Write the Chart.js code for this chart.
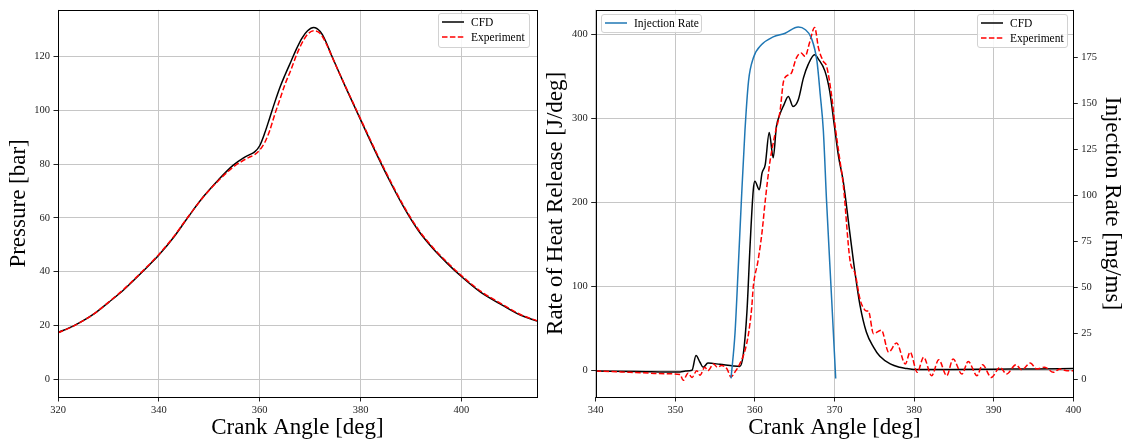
<!DOCTYPE html>
<html><head><meta charset="utf-8">
<script src="https://cdn.jsdelivr.net/npm/chart.js@4.4.1/dist/chart.umd.min.js"></script>
<style>
html,body{margin:0;padding:0;background:#fff;}
#wrap{position:relative;width:1129px;height:444px;overflow:hidden;background:#fff;}
canvas{position:absolute;top:0;}
#cA{left:0;} #cB{left:530px;}
.leg{position:absolute;background:rgba(255,255,255,0.85);border:1px solid #d2d2d2;border-radius:3px;box-sizing:border-box;font-family:'Liberation Serif',serif;font-size:11.5px;color:#000;}
.leg svg{position:absolute;overflow:visible;}
.leg span{position:absolute;white-space:nowrap;height:14px;line-height:14px;}
</style></head><body>
<div id="wrap">
<canvas id="cA" width="540" height="444"></canvas>
<canvas id="cB" width="599" height="444"></canvas>
</div>
<script>
// ---------- data: in-cylinder pressure ----------
const P_ANGLE = [320,322.9,325,327.2,330.1,333,335.9,338,340,343.1,346,348.9,351.8,354.7,356.8,358,359,360,361,362,363,364.1,365,366.2,367.3,368.4,369.5,370.7,372,373,374.2,375.5,377.1,380,382.9,385.8,388.6,391.5,394.4,397.3,400,403.8,408.2,411.8,415];
const P_CFD = [17.4,19.7,21.8,24.4,28.7,33.2,38.4,42.3,46.2,53.2,60.8,68.0,74.1,79.5,82.3,83.5,84.5,86.8,91.5,97.2,103,108.9,113,118.1,122.8,126.8,129.5,130.7,129.2,126,120.6,115,108.3,96.5,84.8,73.7,63.9,55.2,48.5,42.9,38.2,32.4,27.5,23.8,21.7];
const P_EXP = [17.3,19.6,21.8,24.4,28.8,33.4,38.6,42.5,46.4,53.4,60.9,67.9,73.8,78.8,81.4,82.6,83.5,85.2,88,92.5,98.5,104.5,109.5,115,120.5,125,128.2,129.5,128.5,125.5,120.5,115,108.5,96.8,85.2,74.2,64.3,55.6,48.9,43.3,38.6,32.8,27.8,24.0,21.8];
const P_X_TICKS = [320,340,360,380,400];
const P_Y_TICKS = [0,20,40,60,80,100,120];

// ---------- data: rate of heat release ----------
const HRR_CFD_ANGLE = [340,345,350.6,351.3,352.1,352.6,353.1,353.5,354.1,355.6,357.3,358.1,358.55,359.0,359.4,359.8,360.0,360.55,360.9,361.3,361.8,362.3,362.7,363.15,363.6,364.2,364.8,365.45,366.1,366.7,367.5,368.0,368.8,369.4,370.0,370.5,371.1,371.95,372.6,373.2,374.0,374.9,375.7,377.0,378.2,379.1,380,385,390,395,400];
const HRR_CFD = [-0.5,-1,-1.6,-0.5,0.5,18,10,4,9,7.5,5.5,5,20,70,150,215,225,215,235,245,283,253,290,305,315,326,314,322,348,364,375.5,370,356,332,290,255,225,162,115,78,46,28,17,8,4,2.5,1.5,1.5,1.8,2,2.5];
const HRR_EXP_ANGLE = [340,342,344.3,346,348,350.6,351.0,351.6,352.1,352.7,353.1,353.7,354.1,354.8,355.3,355.8,356.5,357.0,357.5,358.1,358.75,359.2,359.6,359.8,360.4,360.9,361.3,361.9,362.5,363.15,363.6,364.2,364.6,365.2,365.8,366.3,366.9,367.5,368.0,368.6,369.0,369.65,370.05,370.6,371.1,371.95,372.6,373.2,373.6,374.0,374.25,374.9,375.9,376.8,377.8,378.9,379.5,380.4,381.2,382.2,383.1,384.1,384.9,386.0,386.8,387.9,388.6,389.7,390.8,391.6,392.8,393.5,394.6,395.4,396.4,397.5,398.3,399.2,400];
const HRR_EXP = [-0.5,-1,-2,-2.5,-3.5,-4.5,-11.5,-3,-8,0,-5.5,4,0,8,4,6,2,-7.5,-1.5,8,24,44,75,100,131,165,202,249,280,308,344,351.5,354,371.5,377.5,373.6,391,408,383,367.6,362,326,293,255,221,131,115,85,75,71,71,44,48,22,33,8,22,-2,16,-6,13,-6,14,-4,11,-6,7,-8,4,-4,7,1,9,2,4,-2,2,0,0];
const H_X_TICKS = [340,350,360,370,380,390,400];
const H_Y_TICKS = [0,100,200,300,400];

// ---------- data: injection rate ----------
const INJ_ANGLE = [357.0,357.5,357.9,358.3,358.75,359.2,359.8,360.85,362.3,363.8,365.45,366.3,367.1,367.8,368.2,368.6,369.0,369.65,370.15];
const INJ_RATE = [0.5,25,60,97,135,162,174.5,181.8,186,188,191.3,190,185.3,172.7,155,135,97,43,0.5];
const INJ_TICKS = [0,25,50,75,100,125,150,175];

const FAMILY = "'Liberation Serif', serif";
const TICK_FONT = {family: FAMILY, size: 10.5};
const TITLE_FONT = {family: FAMILY, size: 23};
const GRID = '#c6c6c6';
const TICKC = '#222';

function pts(xs, ys){ return xs.map((x,i)=>({x:x, y:ys[i]})); }
function fixTicks(arr){ return s => { s.ticks = arr.map(v=>({value:v})); }; }

const frame = {
  id:'frame',
  afterDraw(c){
    const a=c.chartArea, ctx=c.ctx;
    ctx.save();
    ctx.strokeStyle='#000'; ctx.lineWidth=1;
    const l=Math.round(a.left)+0.5, t=Math.round(a.top)+0.5, r=Math.round(a.right)+0.5, b=Math.round(a.bottom)+0.5;
    ctx.strokeRect(l,t,r-l,b-t);
    ctx.restore();
  }
};

function xScale(min,max,ticks){
  return {
    type:'linear', min:min, max:max,
    afterBuildTicks: fixTicks(ticks),
    afterFit: s=>{ s.height = 47; },
    grid:{color:GRID, lineWidth:1, tickColor:TICKC, tickLength:4.5, drawTicks:true},
    border:{display:false},
    ticks:{font:TICK_FONT, color:TICKC, padding:2, maxRotation:0, autoSkip:false},
    title:{display:true, text:'Crank Angle [deg]', font:TITLE_FONT, color:'#000', padding:{top:0,bottom:2}}
  };
}

const common = {
  responsive:false, devicePixelRatio:1, animation:false, events:[],
  plugins:{legend:{display:false}, tooltip:{enabled:false}},
  elements:{point:{radius:0}, line:{borderWidth:1.5, cubicInterpolationMode:'monotone'}}
};

// ---------- left chart ----------
new Chart(document.getElementById('cA'), {
  type:'line',
  data:{datasets:[
    {label:'CFD', data:pts(P_ANGLE,P_CFD), borderColor:'#000', order:2},
    {label:'Experiment', data:pts(P_ANGLE,P_EXP), borderColor:'#ff0000', borderDash:[5.5,2.4], order:1}
  ]},
  options:Object.assign({}, common, {
    layout:{padding:{top:8, right:3, bottom:0, left:0}},
    scales:{
      x: xScale(320,415,P_X_TICKS),
      y:{
        type:'linear', min:-6.55, max:137.3,
        afterBuildTicks: fixTicks(P_Y_TICKS),
        afterFit: s=>{ s.width = 58; },
        grid:{color:GRID, lineWidth:1, tickColor:TICKC, tickLength:4.5},
        border:{display:false},
        ticks:{font:TICK_FONT, color:TICKC, padding:3.5},
        title:{display:true, text:'Pressure [bar]', font:TITLE_FONT, color:'#000', padding:{top:4.9,bottom:0}}
      }
    }
  }),
  plugins:[frame]
});

// ---------- right chart ----------
new Chart(document.getElementById('cB'), {
  type:'line',
  data:{datasets:[
    {label:'Injection Rate', data:pts(INJ_ANGLE,INJ_RATE), borderColor:'#1f77b4', yAxisID:'yInj', order:0},
    {label:'CFD', data:pts(HRR_CFD_ANGLE,HRR_CFD), borderColor:'#000', yAxisID:'y', order:2},
    {label:'Experiment', data:pts(HRR_EXP_ANGLE,HRR_EXP), borderColor:'#ff0000', borderDash:[5.5,2.4], yAxisID:'y', order:1}
  ]},
  options:Object.assign({}, common, {
    layout:{padding:{top:8, right:0, bottom:0, left:0}},
    scales:{
      x: xScale(340,400,H_X_TICKS),
      y:{
        type:'linear', position:'left', min:-31.3, max:428.9,
        afterBuildTicks: fixTicks(H_Y_TICKS),
        afterFit: s=>{ s.width = 65.7; },
        grid:{color:GRID, lineWidth:1, tickColor:TICKC, tickLength:4.5},
        border:{display:false},
        ticks:{font:TICK_FONT, color:TICKC, padding:3.5},
        title:{display:true, text:'Rate of Heat Release [J/deg]', font:TITLE_FONT, color:'#000', padding:{top:12.2,bottom:0}}
      },
      yInj:{
        type:'linear', position:'right', min:-9.58, max:200.7,
        afterBuildTicks: fixTicks(INJ_TICKS),
        afterFit: s=>{ s.width = 55.7; },
        grid:{drawOnChartArea:false, tickColor:TICKC, tickLength:4.5},
        border:{display:false},
        ticks:{font:TICK_FONT, color:TICKC, padding:3.5},
        title:{display:true, text:'Injection Rate [mg/ms]', font:TITLE_FONT, color:'#000', padding:{top:3.2,bottom:0}}
      }
    }
  }),
  plugins:[frame]
});

// ---------- legends (HTML text) ----------
function legend(left, top, w, h, items){
  const d=document.createElement('div');
  d.className='leg';
  d.style.left=left+'px'; d.style.top=top+'px'; d.style.width=w+'px'; d.style.height=h+'px';
  items.forEach((it,i)=>{
    const cy = 8.7 + i*15;
    const svg=document.createElementNS('http://www.w3.org/2000/svg','svg');
    svg.setAttribute('width','24'); svg.setAttribute('height','4');
    svg.style.left='3px'; svg.style.top=(cy-2-1)+'px';
    const ln=document.createElementNS('http://www.w3.org/2000/svg','line');
    ln.setAttribute('x1','0'); ln.setAttribute('x2','22'); ln.setAttribute('y1','2'); ln.setAttribute('y2','2');
    ln.setAttribute('stroke',it.color); ln.setAttribute('stroke-width','1.5');
    if(it.dash) ln.setAttribute('stroke-dasharray','5.5,2.4');
    svg.appendChild(ln); d.appendChild(svg);
    const s=document.createElement('span');
    s.textContent=it.label; s.style.left='32px'; s.style.top=(cy-7-1)+'px';
    d.appendChild(s);
  });
  document.getElementById('wrap').appendChild(d);
}
legend(438,13,92,35,[{label:'CFD',color:'#000'},{label:'Experiment',color:'#ff0000',dash:true}]);
legend(977,14,91,34,[{label:'CFD',color:'#000'},{label:'Experiment',color:'#ff0000',dash:true}]);
legend(601,14,101,19,[{label:'Injection Rate',color:'#1f77b4'}]);
</script>
</body></html>
